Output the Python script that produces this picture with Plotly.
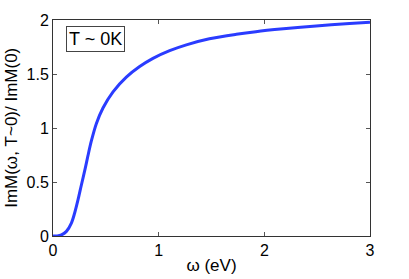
import plotly.graph_objects as go

omega = [0.0, 0.04, 0.08, 0.127, 0.174, 0.205, 0.237, 0.268, 0.306, 0.331, 0.363, 0.41, 0.473, 0.568,
         0.694, 0.82, 0.946, 1.104, 1.262, 1.48, 1.735, 1.92, 2.18, 2.49, 2.806, 3.0]
ratio = [0.0, 0.0, 0.01, 0.043, 0.12, 0.213, 0.336, 0.47, 0.63, 0.745, 0.88, 1.04, 1.185, 1.335,
         1.471, 1.569, 1.645, 1.716, 1.77, 1.826, 1.868, 1.892, 1.918, 1.945, 1.967, 1.98]

x_ticks = [0, 1, 2, 3]
y_ticks = [0, 0.5, 1, 1.5, 2]
y_tick_text = ["0", "0.5", "1", "1.5", "2"]
x_title = "ω (eV)"
y_title = "ImM(ω, T~0)/ ImM(0)"
label = "T ~ 0K"

fig = go.Figure()
fig.add_trace(go.Scatter(x=omega, y=ratio, mode="lines",
                         line=dict(color="#2a3cff", width=3, shape="spline", smoothing=0.9),
                         showlegend=False, hoverinfo="skip"))

fam = "Liberation Sans, Arial, sans-serif"
tick_font = dict(family=fam, size=16, color="black")
title_font = dict(family=fam, size=17, color="black")
axis_common = dict(showline=True, linecolor="#333", linewidth=1, mirror="ticks", ticks="inside",
                   ticklen=4, tickcolor="#555", showgrid=False, zeroline=False, tickfont=tick_font,
                   automargin=False)

fig.update_layout(
    width=409, height=279,
    margin=dict(l=53, r=39, t=20, b=43),
    paper_bgcolor="white", plot_bgcolor="white",
    font=tick_font,
    xaxis=dict(range=[0, 3], tickvals=x_ticks, title=dict(text=x_title, font=title_font, standoff=0),
               **axis_common),
    yaxis=dict(range=[0, 2], tickvals=y_ticks, ticktext=y_tick_text, **axis_common),
    annotations=[
        dict(text=label, xref="paper", yref="paper", x=0.042, y=0.97, xanchor="left", yanchor="top",
             showarrow=False, font=dict(family=fam, size=18, color="black"),
             bordercolor="#444", borderwidth=1, borderpad=2, bgcolor="white"),
        dict(text=y_title, xref="paper", yref="paper", x=-0.133, y=0.5, xanchor="center", yanchor="middle",
             textangle=-90, showarrow=False, font=title_font),
    ],
)

fig.write_html("out.html", config={"displayModeBar": False},
               post_script="document.body.style.margin='0';document.body.style.overflow='hidden';")
